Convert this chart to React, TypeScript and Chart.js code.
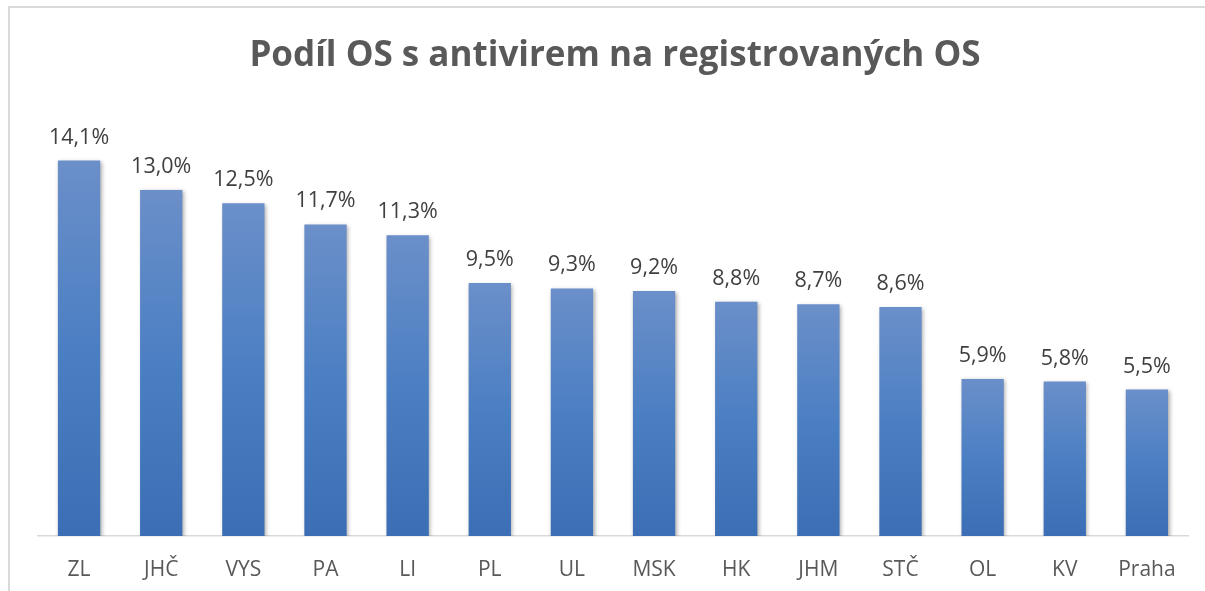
import React, { useEffect, useRef } from "react";
import { Chart, registerables } from "chart.js";

Chart.register(...registerables);

const chartTitle = "Podíl OS s antivirem na registrovaných OS";
const categories = ["ZL", "JHČ", "VYS", "PA", "LI", "PL", "UL", "MSK", "HK", "JHM", "STČ", "OL", "KV", "Praha"];
const shares = [14.1, 13.0, 12.5, 11.7, 11.3, 9.5, 9.3, 9.2, 8.8, 8.7, 8.6, 5.9, 5.8, 5.5];
const axisMax = 16;

const FONT = "'Open Sans', 'Noto Sans', sans-serif";

const shadowPlugin = {
  id: "barShadow",
  beforeDatasetsDraw(chart: any) {
    const ctx = chart.ctx;
    ctx.save();
    ctx.shadowColor = "rgba(0,0,0,0.32)";
    ctx.shadowBlur = 4;
    ctx.shadowOffsetX = 1.5;
    ctx.shadowOffsetY = 1.5;
  },
  afterDatasetsDraw(chart: any) {
    chart.ctx.restore();
  },
};

const labelPlugin = {
  id: "textLayer",
  afterDraw(chart: any) {
    const ctx = chart.ctx;
    ctx.save();
    // title
    ctx.fillStyle = "#595959";
    ctx.font = `bold 35px ${FONT}`;
    ctx.textAlign = "center";
    ctx.textBaseline = "alphabetic";
    ctx.fillText(chartTitle, 605, 58);
    // data labels
    ctx.fillStyle = "#404040";
    ctx.font = `21.5px ${FONT}`;
    const meta = chart.getDatasetMeta(0);
    meta.data.forEach((bar: any, i: number) => {
      const v = shares[i];
      const txt = v.toFixed(1).replace(".", ",") + "%";
      ctx.fillText(txt, bar.x, bar.y - 17);
    });
    ctx.restore();
  },
};

export default function App() {
  const ref = useRef<HTMLCanvasElement | null>(null);
  useEffect(() => {
    if (!ref.current) return;
    const chart = new Chart(ref.current, {
      type: "bar",
      data: {
        labels: categories,
        datasets: [
          {
            data: shares,
            backgroundColor: (c: any) => {
              const ch = c.chart;
              const { chartArea, scales } = ch;
              if (!chartArea || !scales || !scales.y || c.raw == null) return "#4f81bd";
              const top = scales.y.getPixelForValue(c.raw);
              const bottom = scales.y.getPixelForValue(0);
              const g = ch.ctx.createLinearGradient(0, top, 0, bottom);
              g.addColorStop(0, "#6b8fc9");
              g.addColorStop(0.5, "#4b7fc3");
              g.addColorStop(1, "#3b6eb4");
              return g;
            },
            borderWidth: 0,
            categoryPercentage: 1,
            barPercentage: 0.515,
          },
        ],
      },
      options: {
        animation: false,
        responsive: false,
        maintainAspectRatio: false,
        layout: { padding: { left: 28, right: 17, top: 102, bottom: 0 } },
        plugins: {
          legend: { display: false },
          title: { display: false },
          tooltip: { enabled: false },
        },
        scales: {
          x: {
            grid: { display: false, drawTicks: false },
            border: { display: true, color: "#d9d9d9", width: 1.5 },
            ticks: {
              color: "#595959",
              font: { family: FONT, size: 21 },
              padding: 21,
              maxRotation: 0,
              autoSkip: false,
            },
            afterFit: (s: any) => {
              s.height = 55;
            },
          },
          y: {
            display: false,
            min: 0,
            max: axisMax,
          },
        },
      },
      plugins: [shadowPlugin, labelPlugin],
    });
    return () => chart.destroy();
  }, []);

  return (
    <div
      style={{
        position: "fixed",
        left: 8,
        top: 6,
        width: 1195,
        height: 583,
        borderLeft: "2px solid #d9d9d9",
        borderTop: "2px solid #d9d9d9",
        background: "#ffffff",
        overflow: "hidden",
      }}
    >
      <canvas ref={ref} width={1195} height={583} style={{ display: "block", width: 1195, height: 583 }} />
    </div>
  );
}
